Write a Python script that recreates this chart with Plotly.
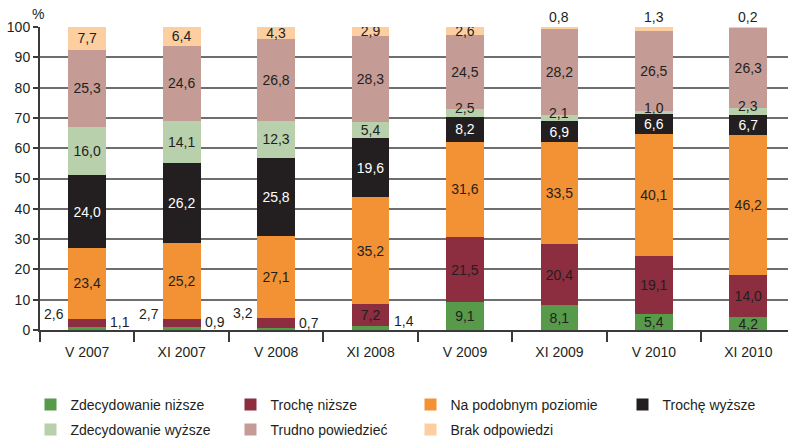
import plotly.graph_objects as go

categories = ["V 2007", "XI 2007", "V 2008", "XI 2008", "V 2009", "XI 2009", "V 2010", "XI 2010"]

zdecydowanie_nizsze = [1.1, 0.9, 0.7, 1.4, 9.1, 8.1, 5.4, 4.2]
troche_nizsze = [2.6, 2.7, 3.2, 7.2, 21.5, 20.4, 19.1, 14.0]
na_podobnym = [23.4, 25.2, 27.1, 35.2, 31.6, 33.5, 40.1, 46.2]
troche_wyzsze = [24.0, 26.2, 25.8, 19.6, 8.2, 6.9, 6.6, 6.7]
zdecydowanie_wyzsze = [16.0, 14.1, 12.3, 5.4, 2.5, 2.1, 1.0, 2.3]
trudno_powiedziec = [25.3, 24.6, 26.8, 28.3, 24.5, 28.2, 26.5, 26.3]
brak_odpowiedzi = [7.7, 6.4, 4.3, 2.9, 2.6, 0.8, 1.3, 0.2]

# name, values, colour, text colour, legend, legend text width
series = [
    ("Zdecydowanie niższe", zdecydowanie_nizsze, "#569a4a", "#231f20", "legend", 155),
    ("Trochę niższe", troche_nizsze, "#8c2d40", "#231f20", "legend", 135),
    ("Na podobnym poziomie", na_podobnym, "#f39234", "#231f20", "legend", 167),
    ("Trochę wyższe", troche_wyzsze, "#231f20", "#ffffff", "legend", 100),
    ("Zdecydowanie wyższe", zdecydowanie_wyzsze, "#b8d0ac", "#231f20", "legend2", 155),
    ("Trudno powiedzieć", trudno_powiedziec, "#c59b96", "#231f20", "legend2", 135),
    ("Brak odpowiedzi", brak_odpowiedzi, "#fdcfa0", "#231f20", "legend2", 120),
]

FONT = "Liberation Sans, Arial, sans-serif"
DARK = "#231f20"
FS = 14


def fmt(v):
    return f"{v:.1f}".replace(".", ",")


fig = go.Figure()
annotations = []
cum = [0.0] * len(categories)

for idx, (name, vals, color, tcolor, leg, lw) in enumerate(series):
    texts = []
    for i, v in enumerate(vals):
        base = cum[i]
        top = base + v
        ann = None
        if idx == 0 and v < 2:
            ann = dict(y=top, xanchor="left", yanchor="middle", xshift=21, yshift=5)
        elif idx == 1 and v < 4:
            ann = dict(y=top, xanchor="right", yanchor="middle", xshift=-21, yshift=5)
        elif idx == 4 and v < 4:
            ann = dict(y=(base + top) / 2, xanchor="center", yanchor="middle", yshift=5)
        elif idx == 6 and v < 2:
            ann = dict(y=top, xanchor="center", yanchor="bottom", yshift=0)
        if ann is not None:
            ann.update(x=categories[i], text=fmt(v), showarrow=False,
                       font=dict(family=FONT, size=FS, color=tcolor))
            annotations.append(ann)
            texts.append("")
        else:
            texts.append(fmt(v))
        cum[i] = top
    fig.add_trace(go.Bar(
        name=name, x=categories, y=vals, marker=dict(color=color, line=dict(width=0)),
        width=0.4, text=texts, textposition="inside", insidetextanchor="middle",
        textangle=0, textfont=dict(family=FONT, size=FS, color=tcolor),
        hoverinfo="skip", legend=leg, legendwidth=lw,
    ))

annotations.append(dict(x=0, y=1.0, xref="paper", yref="paper", text="%", showarrow=False,
                        xanchor="center", yanchor="bottom", xshift=-2, yshift=3,
                        font=dict(family=FONT, size=FS, color=DARK)))

leg_common = dict(orientation="h", x=-0.0127, xanchor="left", yanchor="middle",
                  font=dict(family=FONT, size=FS, color=DARK), itemclick=False,
                  traceorder="normal", bgcolor="rgba(0,0,0,0)")

fig.update_layout(
    barmode="stack",
    width=788, height=439,
    margin=dict(l=40, r=0, t=27, b=109, autoexpand=False),
    paper_bgcolor="white", plot_bgcolor="white",
    font=dict(family=FONT, size=FS, color=DARK),
    uniformtext=dict(minsize=FS, mode="show"),
    showlegend=True,
    legend=dict(y=-0.2475, **leg_common),
    legend2=dict(y=-0.33, **leg_common),
    annotations=annotations,
)
fig.update_xaxes(type="category", range=[-0.5, 7.42], showline=True, linecolor="#3a3a3a",
                 linewidth=2, ticks="outside", tickson="boundaries", ticklen=10,
                 tickcolor="#3a3a3a", tickwidth=1.5, showgrid=False,
                 ticklabelstandoff=8,
                 tickfont=dict(family=FONT, size=FS, color=DARK))
fig.update_yaxes(range=[0, 100], dtick=10, showline=True, linecolor="#3a3a3a", linewidth=2,
                 ticks="outside", ticklen=5, tickcolor="#3a3a3a", tickwidth=1.5,
                 showgrid=True, gridcolor="#6e6e6e", gridwidth=1.5, zeroline=False,
                 tickfont=dict(family=FONT, size=FS, color=DARK))

fig.write_html("out.html", config={"displayModeBar": False},
               post_script="document.body.style.margin='0';")
